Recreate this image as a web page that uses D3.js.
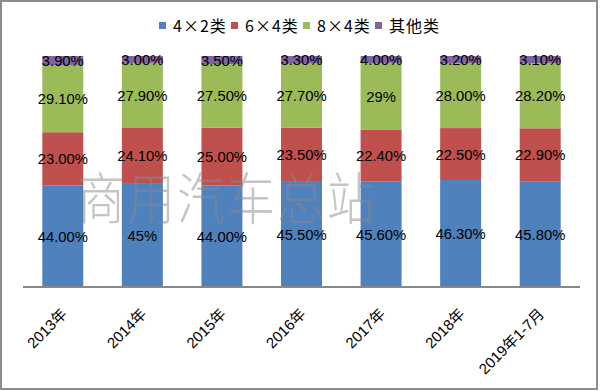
<!DOCTYPE html>
<html><head><meta charset="utf-8">
<script src="https://cdn.jsdelivr.net/npm/d3@7"></script>
<style>html,body{margin:0;padding:0;background:#fff;}svg{display:block;}</style>
</head><body>
<script>
const categories = ["2013年","2014年","2015年","2016年","2017年","2018年","2019年1-7月"];
const seriesNames = ["4×2类","6×4类","8×4类","其他类"];
const s4x2 = [44.0,45,44.0,45.5,45.6,46.3,45.8];
const s6x4 = [23.0,24.1,25.0,23.5,22.4,22.5,22.9];
const s8x4 = [29.1,27.9,27.5,27.7,29,28.0,28.2];
const sOther = [3.9,3.0,3.5,3.3,4.0,3.2,3.1];
const labels4x2 = ["44.00%","45%","44.00%","45.50%","45.60%","46.30%","45.80%"];
const labels6x4 = ["23.00%","24.10%","25.00%","23.50%","22.40%","22.50%","22.90%"];
const labels8x4 = ["29.10%","27.90%","27.50%","27.70%","29%","28.00%","28.20%"];
const labelsOther = ["3.90%","3.00%","3.50%","3.30%","4.00%","3.20%","3.10%"];
const colors = ["#4F81BD","#C0504D","#9BBB59","#8064A2"];
const watermark = "商用汽车总站";

const W = 600, H = 391;
const svg = d3.select("body").append("svg").attr("width", W).attr("height", H);
svg.append("rect").attr("x",1).attr("y",1).attr("width",596).attr("height",388)
  .attr("fill","#fff").attr("stroke","#8c8c8c").attr("stroke-width",2);

const x = d3.scaleBand().domain(categories).range([23,580]).paddingInner(0.485).paddingOuter(0.2425);
const y = d3.scaleLinear().domain([0,100]).range([287,56]);

const series = [s4x2,s6x4,s8x4,sOther];
const lbls = [labels4x2,labels6x4,labels8x4,labelsOther];
const segs = [];
categories.forEach((c,i)=>{
  let base = 0;
  series.forEach((s,k)=>{
    const y0 = Math.min(base,100), y1 = Math.min(base + s[i],100);
    segs.push({c, k, y0, y1, label: lbls[k][i]});
    base += s[i];
  });
});

const g = svg.append("g");
g.selectAll("rect.bar").data(segs).join("rect").attr("class","bar")
  .attr("x", d=>x(d.c)).attr("width", x.bandwidth())
  .attr("y", d=>y(d.y1)).attr("height", d=>y(d.y0)-y(d.y1))
  .attr("fill", d=>colors[d.k]);

g.selectAll("text.lbl").data(segs).join("text").attr("class","lbl")
  .attr("x", d=>x(d.c)+x.bandwidth()/2)
  .attr("y", d=>(y(d.y0)+y(d.y1))/2)
  .attr("dy","0.37em")
  .attr("text-anchor","middle")
  .attr("font-family","'Liberation Sans', Arial, sans-serif")
  .attr("font-size",14.8)
  .attr("fill","#000")
  .text(d=>d.label);

// axis
const xAxis = d3.axisBottom(x).tickSize(0).tickPadding(0);
const ax = svg.append("g").attr("transform","translate(0,287)").call(xAxis);
ax.select(".domain").attr("stroke","#888").attr("stroke-width",2).attr("d","M23,0H580");
ax.selectAll(".tick text")
  .attr("font-family","'Liberation Sans', 'Noto Sans CJK SC', sans-serif")
  .attr("font-size",15).attr("fill","#000")
  .attr("text-anchor","end")
  .attr("x",0).attr("y",0).attr("dy",0)
  .attr("transform","translate(5,28) rotate(-45)");

// watermark
svg.append("text").attr("text-anchor","middle")
  .attr("transform","translate(227,219) scale(1,1.15)")
  .attr("font-family","'Noto Sans CJK SC', sans-serif").attr("font-weight",300)
  .attr("font-size",48).attr("fill","#8a8a8a").attr("fill-opacity",0.5)
  .attr("letter-spacing",2)
  .text(watermark);

// legend
const legX = [159,231,303,375];
const leg = svg.append("g");
seriesNames.forEach((n,k)=>{
  leg.append("rect").attr("x",legX[k]).attr("y",22).attr("width",7).attr("height",7).attr("fill",colors[k]);
  leg.append("text").attr("x",legX[k]+14).attr("y",26).attr("dy","0.36em")
    .attr("font-family","'Noto Sans CJK SC', sans-serif")
    .attr("font-size",16).attr("letter-spacing",1).attr("fill","#000").text(n);
});
</script>
</body></html>
